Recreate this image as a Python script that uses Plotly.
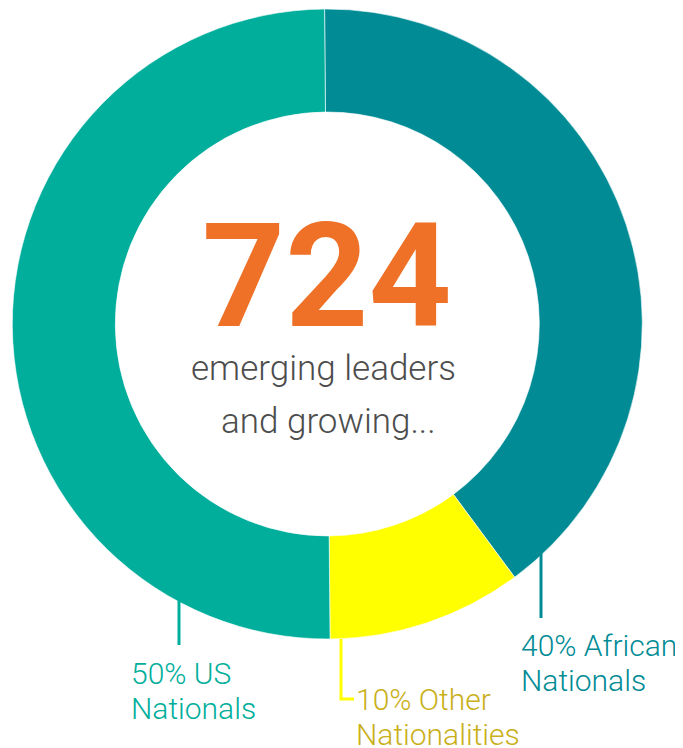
import plotly.graph_objects as go

labels = ["African Nationals", "Other Nationalities", "US Nationals"]
values = [40, 10, 50]
colors = ["#008B95", "#FFFF00", "#00AE9B"]
label_lines = [["40% African", "Nationals"], ["10% Other", "Nationalities"], ["50% US", "Nationals"]]
text_colors = ["#008B95", "#C9B01A", "#00AE9B"]
total = 724
center_lines = ["emerging leaders", "and growing..."]

OFF = 8  # page body margin
W, H = 683 - OFF, 748 - OFF
def px(x):
    return (x - OFF) / W
def py(y):
    return 1 - (y - OFF) / H

fig = go.Figure(go.Pie(
    labels=labels, values=values, sort=False, direction="clockwise", rotation=-0.5,
    hole=0.673, marker=dict(colors=colors, line=dict(color="white", width=0.6)),
    textinfo="none", hoverinfo="label+percent", showlegend=False,
    domain=dict(x=[px(12.3), px(642.3)], y=[py(639), py(9)]),
))

font = "Roboto"
# center text
fig.add_annotation(x=px(326.5), y=py(275.8), xref="paper", yref="paper", text="<b>%d</b>" % total,
                   showarrow=False, font=dict(family=font, size=145, color="#EE7127"),
                   xanchor="center", yanchor="middle")
for t, (cx, cy) in zip(center_lines, [(323.5, 368), (328, 421)]):
    fig.add_annotation(x=px(cx), y=py(cy), xref="paper", yref="paper", text=t,
                       showarrow=False, font=dict(family=font, size=35, color="#4D4D4D", weight=300),
                       xanchor="center", yanchor="middle")

# labels (left x, first-line baseline)
label_pos = [(519, 656), (354, 710), (129, 684)]
LS = 30
for lines, c, (x, b) in zip(label_lines, text_colors, label_pos):
    for i, t in enumerate(lines):
        fig.add_annotation(x=px(x), y=py(b + 35 * i - 0.34 * LS), xref="paper", yref="paper", text=t,
                           align="left", showarrow=False,
                           font=dict(family=font, size=LS, color=c, weight=300),
                           xanchor="left", yanchor="middle")

# leader lines
line_w = 3
fig.add_shape(type="line", xref="paper", yref="paper", x0=px(541), x1=px(541), y0=py(553), y1=py(618),
              line=dict(color=colors[0], width=line_w))
fig.add_shape(type="path", xref="paper", yref="paper",
              path="M %f %f L %f %f L %f %f" % (px(341), py(639), px(341), py(699), px(354), py(699)),
              line=dict(color=colors[1], width=line_w))
fig.add_shape(type="line", xref="paper", yref="paper", x0=px(179), x1=px(179), y0=py(600), y1=py(645),
              line=dict(color=colors[2], width=line_w))

fig.update_layout(width=W, height=H, margin=dict(l=0, r=0, t=0, b=0),
                  paper_bgcolor="white", plot_bgcolor="white")
fig.write_html("out.html")
